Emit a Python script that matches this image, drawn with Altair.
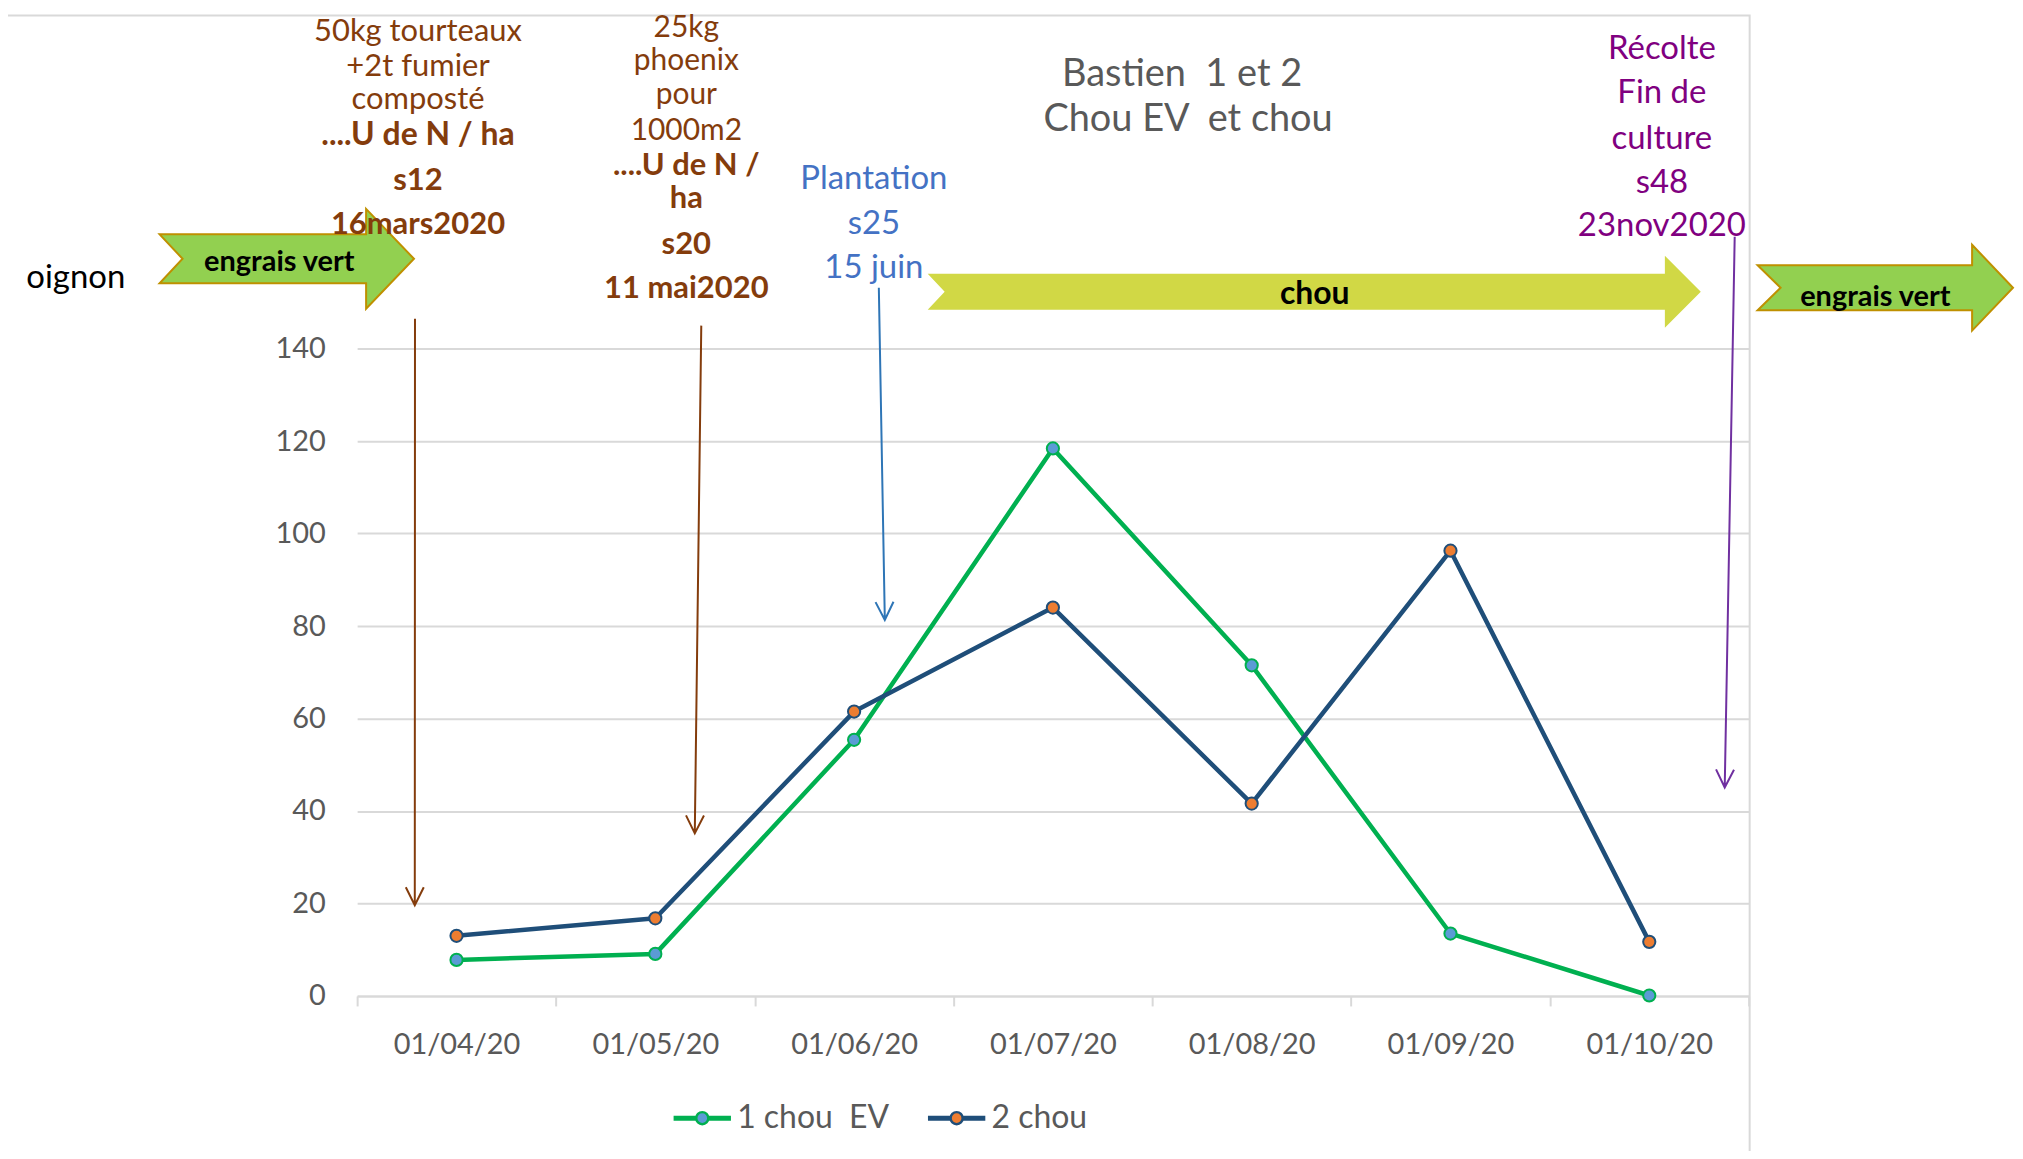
import math
import altair as alt
import pandas as pd

# ---------------- data ----------------
dates = ["01/04/20", "01/05/20", "01/06/20", "01/07/20", "01/08/20", "01/09/20", "01/10/20"]
series_names = ["1 chou \u00a0EV", "2 chou"]
chou_ev = [7.8, 9.1, 55.4, 118.4, 71.5, 13.5, 0.1]
chou = [13.0, 16.8, 61.5, 84.0, 41.6, 96.3, 11.7]
y_ticks = [0, 20, 40, 60, 80, 100, 120, 140]

line_colors = ["#00b050", "#1f4e79"]
marker_colors = ["#5b9bd5", "#ed7d31"]

rows = []
for name, vals in zip(series_names, [chou_ev, chou]):
    for d, v in zip(dates, vals):
        rows.append({"date": d, "series": name, "value": v})
df = pd.DataFrame(rows)

FONT = "Lato"
GRID = "#d9d9d9"
LABEL = "#595959"
BROWN = "#843c0c"
BLUE = "#4472c4"
PURPLE = "#800080"

# plot-area origin on the page (page margin 8 + padding)
PAD_L, PAD_T = 350, 340
OX, OY = 8 + PAD_L, 8 + PAD_T
W, H = 1395, 649

one = alt.Data(values=[{"k": 0}])

# ---------------- legend ----------------
legend_path = ("M-1,-0.045L-0.22,-0.045L-0.22,0.045L-1,0.045Z"
               "M0.22,-0.045L1,-0.045L1,0.045L0.22,0.045Z"
               "M-0.22,0A0.22,0.22,0,1,1,0.22,0A0.22,0.22,0,1,1,-0.22,0Z")
legend = alt.Legend(
    orient="none", legendX=675 - OX, legendY=1118 - OY - 27.5, direction="horizontal",
    title=None, symbolType=legend_path, symbolSize=3025, symbolStrokeWidth=2.5,
    symbolOpacity=1, labelFont=FONT, labelFontSize=32, labelColor=LABEL,
    labelOffset=6, columnPadding=34, padding=0,
)

x_enc = alt.X(
    "date:N", sort=dates,
    scale=alt.Scale(type="band", paddingInner=0, paddingOuter=0),
    bandPosition=0.5,
    axis=alt.Axis(title=None, tickBand="extent", ticks=True, tickSize=10, tickColor=GRID,
                  tickWidth=2, domain=True, domainColor=GRID, domainWidth=2, grid=False,
                  labelFont=FONT, labelFontSize=29, labelColor=LABEL, labelPadding=25,
                  labelAngle=0),
)
y_enc = alt.Y(
    "value:Q",
    scale=alt.Scale(domain=[0, 140], nice=False, zero=True),
    axis=alt.Axis(title=None, values=y_ticks, grid=True, gridColor=GRID, gridWidth=2,
                  domain=False, ticks=False, labelFont=FONT, labelFontSize=29,
                  labelColor=LABEL, labelPadding=32),
)
stroke_enc = alt.Stroke("series:N", sort=series_names,
                        scale=alt.Scale(domain=series_names, range=line_colors), legend=legend)
fill_enc = alt.Fill("series:N", sort=series_names,
                    scale=alt.Scale(domain=series_names, range=marker_colors), legend=legend)

base = alt.Chart(df)
lines = base.mark_line(strokeWidth=4.5, strokeJoin="round").encode(x=x_enc, y=y_enc, stroke=stroke_enc)
points = base.mark_point(filled=True, size=150, strokeWidth=2, opacity=1).encode(
    x=x_enc, y=y_enc, fill=fill_enc, stroke=stroke_enc)


# ---------------- annotation helpers ----------------
def txt(s, x, y, color, size, bold=False):
    return alt.Chart(one).mark_text(
        text=s, font=FONT, fontSize=size, fontWeight="bold" if bold else "normal",
        color=color, align="center", baseline="alphabetic",
    ).encode(x=alt.value(x - OX), y=alt.value(y - OY))


def shape(pts, fill="transparent", stroke="transparent", sw=2, closed=True, extra=""):
    path = "M" + "L".join(f"{px - OX:.1f},{py - OY:.1f}" for px, py in pts)
    if closed:
        path += "Z"
    path += extra
    return alt.Chart(one).mark_point(
        shape=path, size=4, filled=True, fill=fill, stroke=stroke, strokeWidth=sw,
        opacity=1, strokeJoin="miter",
    ).encode(x=alt.value(0), y=alt.value(0))


def thin_arrow(x0, y0, x1, y1, color):
    dx, dy = x1 - x0, y1 - y0
    L = math.hypot(dx, dy)
    ux, uy = dx / L, dy / L
    hl, hw = 18, 9
    bx, by = x1 - ux * hl, y1 - uy * hl
    a1 = (bx - uy * hw, by + ux * hw)
    a2 = (bx + uy * hw, by - ux * hw)
    head = (f"M{a1[0] - OX:.1f},{a1[1] - OY:.1f}L{x1 - OX:.1f},{y1 - OY:.1f}"
            f"L{a2[0] - OX:.1f},{a2[1] - OY:.1f}")
    return shape([(x0, y0), (x1, y1)], stroke=color, sw=2, closed=False, extra=head)


def block_arrow(x0, notch, xh, xt, yc, bh, hh, fill, stroke="transparent", sw=0):
    pts = [(x0, yc - bh), (notch, yc), (x0, yc + bh), (xh, yc + bh), (xh, yc + hh),
           (xt, yc), (xh, yc - hh), (xh, yc - bh)]
    return shape(pts, fill=fill, stroke=stroke, sw=sw)


layers = [
    # chart-area border (top and right)
    shape([(0, 14), (1754, 14), (1754, 1160)], stroke=GRID, sw=2, closed=False),
    lines,
    points,
    # block arrows
    block_arrow(160, 183, 367, 415, 258, 24.5, 50, "#92d050", "#bf9000", 2),
    block_arrow(930, 947, 1669, 1705, 291, 18, 36, "#d1d845"),
    block_arrow(1762, 1785, 1977, 2018, 287, 22.5, 43, "#92d050", "#bf9000", 2),
    txt("engrais vert", 280, 270, "black", 29, True),
    txt("chou", 1318, 303, "black", 32, True),
    txt("engrais vert", 1880, 305, "black", 29, True),
    txt("oignon", 76, 287, "black", 33),
    # thin arrows
    thin_arrow(416, 318, 415.8, 906, BROWN),
    thin_arrow(703, 325, 696.5, 834, BROWN),
    thin_arrow(881, 287, 887, 620, "#2e75b6"),
    thin_arrow(1739, 236, 1729, 788, "#7030a0"),
    # brown block 1
    txt("50kg tourteaux", 419, 40, BROWN, 31),
    txt("+2t fumier", 419, 75, BROWN, 31),
    txt("composté", 419, 108, BROWN, 31),
    txt("....U de N / ha", 419, 144, BROWN, 32, True),
    txt("s12", 419, 189, BROWN, 31, True),
    txt("16mars2020", 419, 233, BROWN, 31, True),
    # brown block 2
    txt("25kg", 688, 36, BROWN, 30),
    txt("phoenix", 688, 69, BROWN, 30),
    txt("pour", 688, 103, BROWN, 30),
    txt("1000m2", 688, 139, BROWN, 30),
    txt("....U de N /", 688, 174, BROWN, 31, True),
    txt("ha", 688, 207, BROWN, 31, True),
    txt("s20", 688, 253, BROWN, 31, True),
    txt("11 mai2020", 688, 297, BROWN, 31, True),
    # blue block
    txt("Plantation", 876, 188, BLUE, 33),
    txt("s25", 876, 233, BLUE, 33),
    txt("15 juin", 876, 277, BLUE, 33),
    # title
    txt("Bastien \u00a01 et 2", 1185, 85, LABEL, 38),
    txt("Chou EV \u00a0et chou", 1191, 130, LABEL, 38),
    # purple block
    txt("Récolte", 1666, 58, PURPLE, 33),
    txt("Fin de", 1666, 102, PURPLE, 33),
    txt("culture", 1666, 148, PURPLE, 33),
    txt("s48", 1666, 192, PURPLE, 33),
    txt("23nov2020", 1666, 235, PURPLE, 33),
]

chart = alt.layer(*layers).properties(
    width=W, height=H,
    autosize=alt.AutoSizeParams(type="none"),
    padding={"left": PAD_L, "top": PAD_T, "right": 2012 - PAD_L - W, "bottom": 1143 - PAD_T - H},
    background="white",
).configure_view(stroke=None)

chart.save("out.html", embed_options={"renderer": "svg", "actions": False})
